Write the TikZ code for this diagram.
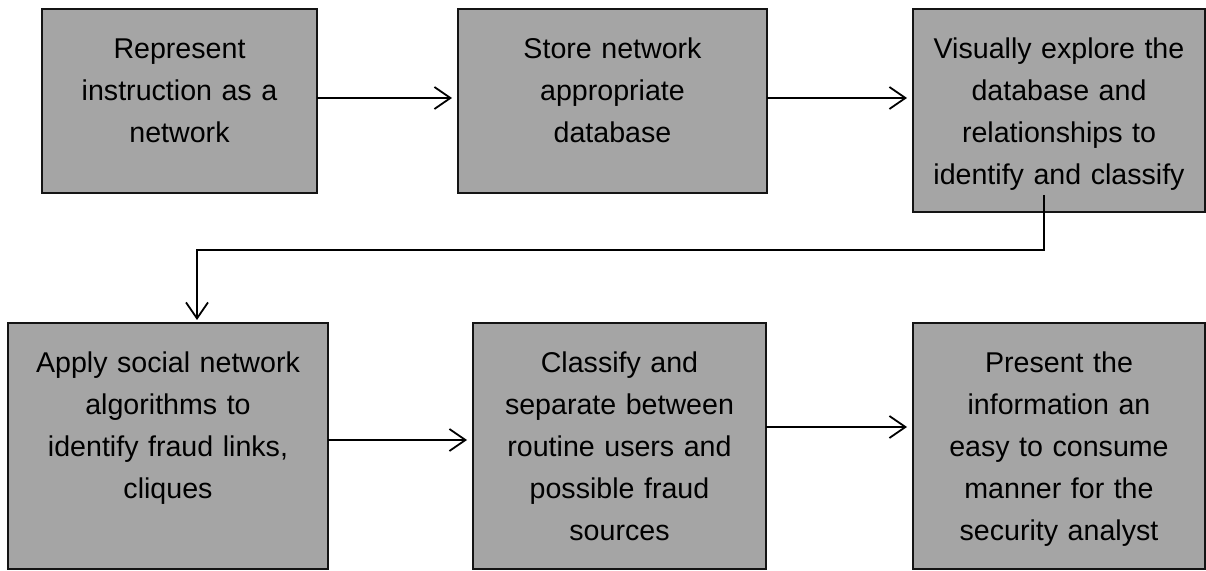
\documentclass[tikz,border=0pt]{standalone}
\usepackage{fontspec}
\setmainfont{Liberation Sans}
\usepackage{xcolor}
\usepackage{tikz}
\usetikzlibrary{arrows.meta,positioning}
\definecolor{boxgray}{HTML}{A5A5A5}
\definecolor{edge}{HTML}{141414}

\begin{document}
\begin{tikzpicture}[
  font=\fontsize{14.3pt}{21pt}\selectfont,
  stepbox/.style={rectangle,draw=edge,fill=boxgray,line width=1pt,align=center,inner sep=0pt,outer sep=0pt,text height=25pt},
  arr/.style={-{Straight Barb[length=8pt,width=11pt]},line width=0.9pt,shorten >=3pt}
]
\useasboundingbox (0,0) rectangle (603pt,-285.5pt);

% top row
\node[stepbox,text width=137.5pt,text depth=67pt,anchor=north west] (represent) at (21pt,-4.5pt) {Represent\\instruction as a\\network};
\node[stepbox,text width=154.5pt,text depth=67pt,right=70.5pt of represent.north east,anchor=north west] (store) {Store network\\appropriate\\database};
\node[stepbox,text width=146pt,text depth=76.5pt,right=73pt of store.north east,anchor=north west] (explore) {Visually explore the\\database and\\relationships to\\identify and classify};

% bottom row
\node[stepbox,text width=160pt,text depth=98pt,anchor=north west] (apply) at (4pt,-161.5pt) {Apply social network\\algorithms to\\identify fraud links,\\cliques};
\node[stepbox,text width=146.5pt,text depth=98pt,right=72.5pt of apply.north east,anchor=north west] (classify) {Classify and\\separate between\\routine users and\\possible fraud\\sources};
\node[stepbox,text width=146pt,text depth=98pt,right=73.5pt of classify.north east,anchor=north west] (present) {Present the\\information an\\easy to consume\\manner for the\\security analyst};

\draw[arr] ([yshift=1.5pt]represent.east) -- ([yshift=1.5pt]store.west);
\draw[arr] ([yshift=1.5pt]store.east) -- ([yshift=1.5pt]store.east -| explore.west);
\draw[arr,shorten >=1.5pt] ([xshift=-7.5pt,yshift=8.5pt]explore.south) |- ([xshift=14.5pt,yshift=36.5pt]apply.north) -- ([xshift=14.5pt]apply.north);
\draw[arr] ([yshift=3pt]apply.east) -- ([yshift=3pt]apply.east -| classify.west);
\draw[arr] ([yshift=9.5pt]classify.east) -- ([yshift=9.5pt]classify.east -| present.west);
\end{tikzpicture}
\end{document}
